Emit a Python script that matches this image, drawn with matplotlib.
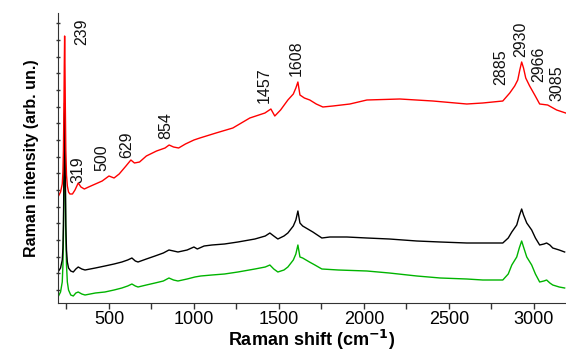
import matplotlib
matplotlib.use("Agg")
import matplotlib.pyplot as plt
from matplotlib.ticker import MultipleLocator

# ---- data ----
red_x = [200, 215, 225, 229, 232, 235, 237, 239, 241, 243, 246, 250, 255, 262, 270, 285, 300, 319, 335, 355,
         380, 420, 460, 500, 530, 560, 600, 629, 650, 680, 720, 780, 830, 854, 880, 910,
         950, 1000, 1035, 1130, 1229, 1329, 1418, 1453, 1476, 1510, 1553, 1585, 1600, 1612,
         1624, 1650, 1682, 1720, 1759, 1818, 1918, 2018, 2212, 2406, 2606, 2700, 2818, 2859,
         2888, 2906, 2918, 2929, 2940, 2953, 2976, 3006, 3035, 3082, 3135, 3188]
red_y = [93, 98, 106, 118, 140, 185, 225, 254, 225, 185, 140, 115, 104, 98, 96, 96, 100, 107, 103, 101,
         103, 106, 109, 114, 112, 116, 124, 130, 127, 128, 134, 139, 142, 145, 143, 142,
         146, 150, 152, 157, 162, 172, 177, 181, 174, 180, 190, 196, 202, 208,
         195, 192, 190, 186, 183, 184, 186, 190, 191, 189, 186, 187, 189, 197,
         204, 210, 220, 228, 222, 212, 204, 195, 186, 185, 180, 177]

black_x = [200, 215, 225, 229, 232, 235, 237, 239, 241, 243, 246, 250, 255, 262, 275, 290, 305, 319, 340, 359,
           420, 476, 530, 576, 610, 635, 655, 671, 720, 771, 820, 853, 880, 906, 960, 1000,
           1020, 1060, 1106, 1180, 1259, 1359, 1420, 1447, 1470, 1494, 1530, 1553, 1585, 1600,
           1612, 1624, 1640, 1660, 1700, 1753, 1800, 1900, 2018, 2150, 2312, 2450, 2606, 2700,
           2818, 2850, 2871, 2900, 2915, 2929, 2940, 2959, 2988, 3010, 3035, 3060, 3076, 3095,
           3112, 3150, 3182]
black_y = [18, 22, 30, 42, 65, 115, 160, 187, 160, 115, 65, 40, 28, 22, 19, 18, 21, 23, 21, 20,
           22, 24, 26, 28, 30, 32, 29, 28, 31, 34, 37, 40, 39, 38, 40, 43,
           41, 44, 45, 46, 48, 51, 54, 57, 54, 51, 54, 57, 64, 70,
           79, 67, 64, 62, 58, 52, 53, 53, 52, 51, 49, 48, 47, 47,
           47, 52, 58, 65, 74, 81, 75, 67, 60, 52, 45, 46, 47, 45,
           42, 40, 38]

green_x = [200, 215, 225, 229, 232, 235, 237, 239, 241, 243, 246, 250, 255, 262, 275, 290, 305, 319, 340, 359,
           420, 476, 530, 576, 610, 635, 655, 671, 720, 771, 820, 853, 880, 906, 960, 1006,
           1040, 1106, 1180, 1259, 1359, 1420, 1447, 1470, 1494, 1530, 1553, 1585, 1600, 1612,
           1624, 1640, 1680, 1712, 1753, 1850, 2018, 2150, 2312, 2450, 2606, 2700, 2818, 2850,
           2871, 2900, 2915, 2929, 2940, 2959, 2988, 3010, 3035, 3060, 3076, 3095, 3112, 3150,
           3182]
green_y = [-7, -2, 8, 25, 55, 105, 150, 177, 150, 105, 55, 25, 8, 0, -5, -6, -3, -2, -4, -5,
           -3, -2, 0, 2, 4, 6, 4, 3, 5, 7, 9, 12, 10, 9, 11, 13,
           14, 15, 16, 18, 21, 23, 25, 21, 18, 20, 23, 30, 36, 45,
           33, 32, 28, 25, 21, 20, 19, 17, 14, 12, 11, 10, 10, 16,
           25, 33, 42, 49, 43, 33, 25, 16, 8, 9, 10, 7, 5, 3,
           2]

peak_labels = ["239", "319", "500", "629", "854", "1457", "1608", "2885", "2930", "2966", "3085"]
label_x = [341, 318, 459, 606, 835, 1412, 1600, 2806, 2924, 3029, 3135]
label_y = [258, 120, 132, 145, 164, 205, 232, 223, 251, 226, 207]

# ---- figure ----
fig = plt.figure(figsize=(5.66, 3.52), dpi=100)
ax = fig.add_axes([58 / 566, (352 - 303.3) / 352, 1 - 58 / 566, (303.3 - 13.3) / 352])

ax.plot(green_x, green_y, color="#00b400", lw=1.0)
ax.plot(black_x, black_y, color="black", lw=1.0)
ax.plot(red_x, red_y, color="#ff0000", lw=1.0)

for t, x, y in zip(peak_labels, label_x, label_y):
    ax.text(x, y, t, rotation=90, ha="center", va="center", fontsize=11.5,
            family=["Liberation Sans Narrow", "Liberation Sans", "DejaVu Sans"], color="#111111")

ax.set_xlim(200, 3190)
ax.set_ylim(-13.3, 276.7)
ax.spines["top"].set_visible(False)
ax.spines["right"].set_visible(False)
ax.spines["left"].set_color("#333333")
ax.spines["bottom"].set_color("#333333")

ax.xaxis.set_major_locator(MultipleLocator(500))
ax.xaxis.set_minor_locator(MultipleLocator(250))
ax.tick_params(axis="x", which="both", direction="out", length=4, width=1, colors="#333333",
               labelsize=13, labelcolor="black", pad=1.5)
for lab in ax.get_xticklabels():
    lab.set_family(["Liberation Sans", "DejaVu Sans"])

ax.yaxis.set_major_locator(MultipleLocator(16.67))
ax.tick_params(axis="y", which="both", direction="inout", length=3.5, width=1, colors="#333333",
               labelleft=False)

ax.set_xlabel("Raman shift (cm$^{\\mathbf{-1}}$)", fontsize=13, fontweight="bold",
              family=["Liberation Sans", "DejaVu Sans"], labelpad=0)
ax.set_ylabel("Raman intensity (arb. un.)", fontsize=11.5, fontweight="bold",
              family=["Liberation Sans", "DejaVu Sans"], labelpad=12)

fig.savefig("out.png", dpi=100)
